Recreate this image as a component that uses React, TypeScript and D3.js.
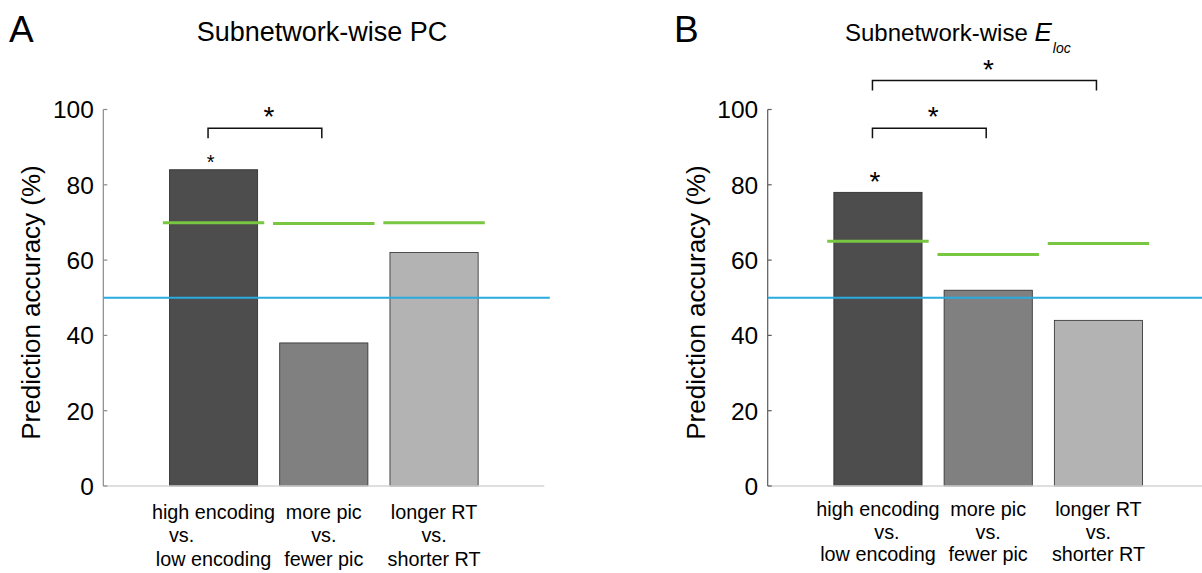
import * as d3 from "d3";
import React from "react";

// bar categories, three text rows each
const categories = [
  ["high encoding", "vs.", "low encoding"],
  ["more pic", "vs.", "fewer pic"],
  ["longer RT", "vs.", "shorter RT"],
];
const yTicks = [0, 20, 40, 60, 80, 100];
const barColors = ["#4d4d4d", "#808080", "#b3b3b3"];

// panel A: subnetwork-wise PC
const accuracyPC = [84, 38, 62];
const thresholdPC = [69.9, 69.7, 69.9];
const barSigPC = [true, false, false];
const pairSigPC: [number, number][] = [[0, 1]];

// panel B: subnetwork-wise E_loc
const accuracyEloc = [78, 52, 44];
const thresholdEloc = [65, 61.5, 64.4];
const barSigEloc = [true, false, false];
const pairSigEloc: [number, number][] = [[0, 1], [0, 2]];

const chanceLevel = 50;

const FONT = "'Liberation Sans', Arial, sans-serif";

interface PanelProps {
  x0: number;
  letter: string;
  letterX: number;
  titleX: number;
  titleSize: number;
  titleSub?: boolean;
  values: number[];
  thresholds: number[];
  barSig: boolean[];
  pairSig: [number, number][];
  xEnd: number;
  chanceEnd: number;
  rowY: number[];
  vsShift: number;
  barStarSize: number;
  axisColor: string;
}

function Panel(p: PanelProps) {
  const x = d3.scaleLinear().domain([0, 4]).range([p.x0, p.x0 + 441]);
  const y = d3.scaleLinear().domain([0, 100]).range([486, 109.5]);
  const bw = x(0.8) - x(0);

  return (
    <g fontFamily={FONT}>
      <text x={p.letterX} y={41.7} fontSize={37}>{p.letter}</text>
      {p.titleSub ? (
        <text x={p.titleX} y={41} fontSize={p.titleSize}>
          Subnetwork-wise <tspan fontStyle="italic" fontSize={26}>E</tspan>
          <tspan fontStyle="italic" fontSize={14} dy={12} dx={1}>loc</tspan>
        </text>
      ) : (
        <text x={p.titleX} y={41} fontSize={p.titleSize}>Subnetwork-wise PC</text>
      )}

      {/* bars */}
      {p.values.map((v, i) => (
        <rect key={"b" + i} x={x(i + 1) - bw / 2} y={y(v)} width={bw} height={y(0) - y(v)}
          fill={barColors[i]} stroke="#2a2a2a" strokeWidth={0.8} />
      ))}

      {/* axes */}
      <line x1={p.x0} x2={x(p.xEnd)} y1={y(0)} y2={y(0)} stroke="#d4d4d4" strokeWidth={1.5} />
      <line x1={p.x0} x2={p.x0} y1={y(0)} y2={y(100)} stroke={p.axisColor} strokeWidth={1.2} />
      {yTicks.map((t) => (
        <g key={"t" + t}>
          <line x1={p.x0} x2={p.x0 + 4} y1={y(t)} y2={y(t)} stroke={p.axisColor} strokeWidth={1.2} />
          <text x={p.x0 - 9.5} y={y(t)} dy="0.36em" textAnchor="end" fontSize={24.5}>{t}</text>
        </g>
      ))}
      <text transform={`translate(${p.x0 - 63},302.5) rotate(-90)`} textAnchor="middle" fontSize={26}>
        Prediction accuracy (%)
      </text>

      {/* chance level */}
      <line x1={p.x0} x2={x(p.chanceEnd)} y1={y(chanceLevel)} y2={y(chanceLevel)}
        stroke="#29abe2" strokeWidth={2} />

      {/* permutation thresholds */}
      {p.thresholds.map((v, i) => (
        <line key={"g" + i} x1={x(i + 1 - 0.46)} x2={x(i + 1 + 0.46)} y1={y(v)} y2={y(v)}
          stroke="#78c641" strokeWidth={3} />
      ))}

      {/* significance */}
      {p.barSig.map((s, i) => s && (
        <text key={"s" + i} x={x(i + 1) - 3} y={y(p.values[i]) - 1} textAnchor="middle"
          fontSize={p.barStarSize}>*</text>
      ))}
      {p.pairSig.map(([a, b], k) => {
        const top = y(95 + k * 12.7);
        const xa = x(a + 1) - 5.5;
        const xb = x(b + 1) - 2;
        return (
          <g key={"p" + k}>
            <path d={`M${xa},${top + 10}V${top}H${xb}V${top + 10}`} fill="none" stroke="#111" strokeWidth={1.5} />
            <text x={(xa + xb) / 2 + 4} y={top - 2} textAnchor="middle" fontSize={28}>*</text>
          </g>
        );
      })}

      {/* category labels */}
      {categories.map((rows, i) =>
        rows.map((r, j) => (
          <text key={"c" + i + j} x={x(i + 1) + (j === 1 && i === 0 ? p.vsShift : 0)} y={p.rowY[j]}
            textAnchor="middle" fontSize={19.8}>{r}</text>
        ))
      )}
    </g>
  );
}

export default function App() {
  return (
    <svg width={1202} height={573} style={{ position: "absolute", left: 0, top: 0, background: "#fff" }}>
      <rect width={1202} height={573} fill="#fff" />
      <Panel x0={103.3} letter="A" letterX={9} titleX={196.7} titleSize={27} values={accuracyPC}
        thresholds={thresholdPC} barSig={barSigPC} pairSig={pairSigPC} xEnd={4} chanceEnd={4.05}
        rowY={[519.3, 542, 565.5]} vsShift={-32} barStarSize={20} axisColor="#8a8a8a" />
      <Panel x0={767.7} letter="B" letterX={674} titleX={845} titleSize={24} titleSub values={accuracyEloc}
        thresholds={thresholdEloc} barSig={barSigEloc} pairSig={pairSigEloc} xEnd={4.5} chanceEnd={4.5}
        rowY={[516, 538.5, 561]} vsShift={9} barStarSize={28} axisColor="#5a5a5a" />
    </svg>
  );
}
